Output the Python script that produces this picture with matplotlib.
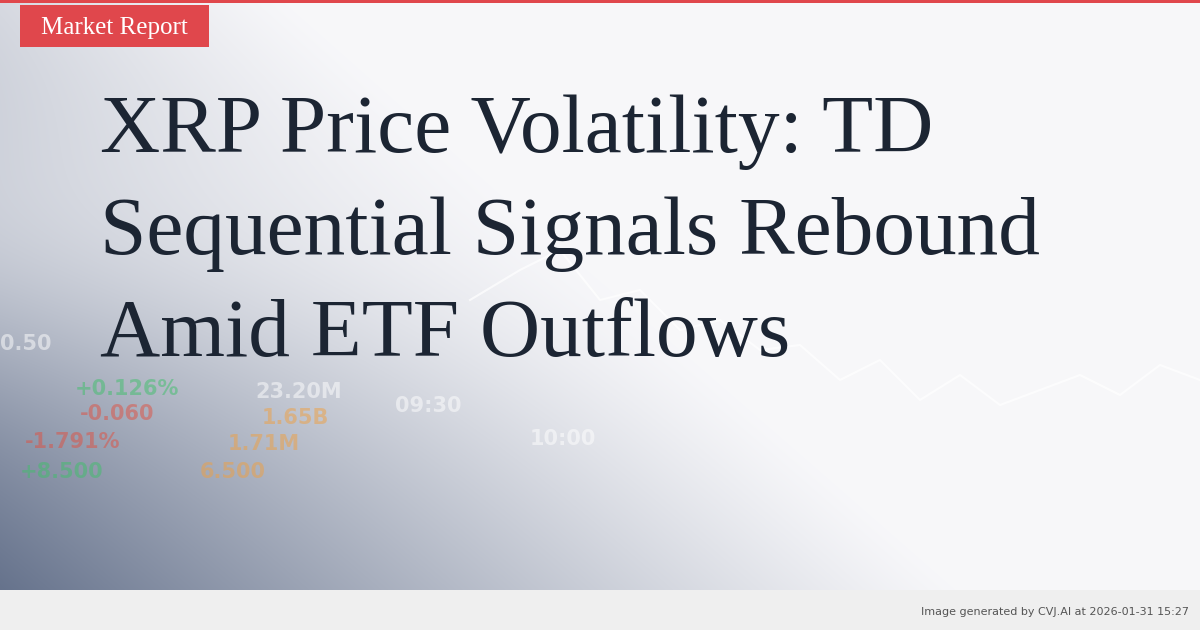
import numpy as np
import matplotlib.pyplot as plt

W, H = 1200, 630

TITLE_LINES = ["XRP Price Volatility: TD", "Sequential Signals Rebound", "Amid ETF Outflows"]
TAG = "Market Report"
FOOTER = "Image generated by CVJ.AI at 2026-01-31 15:27"

# faint ticker numbers in the blurred background
TICKER_TEXT = ["+0.126%", "-0.060", "-1.791%", "23.20M", "1.65B", "1.71M", "09:30", "10:00", "6.500", "0.50", "+8.500"]
TICKER_X = [75, 80, 25, 255, 262, 228, 395, 530, 200, 0, 20]
TICKER_Y = [395, 420, 448, 398, 424, 450, 412, 445, 478, 350, 478]
TICKER_C = ["#3fbf6a", "#e05040", "#e05040", "#ffffff", "#f0a040", "#f0a040", "#ffffff", "#ffffff", "#f0a040", "#ffffff", "#3fbf6a"]

# faint price line on the right
LINE_X = [470, 520, 560, 600, 640, 680, 720, 760, 800, 840, 880, 920, 960, 1000, 1040, 1080, 1120, 1160, 1200]
LINE_Y = [300, 270, 250, 300, 290, 330, 320, 350, 345, 380, 360, 400, 375, 405, 390, 375, 395, 365, 380]

fig = plt.figure(figsize=(12, 6.3), dpi=100)
ax = fig.add_axes([0, 0, 1, 1])
ax.set_xlim(0, W)
ax.set_ylim(H, 0)
ax.axis("off")

# background: dark blue-grey lower left fading to near white
yy, xx = np.mgrid[0:H, 0:W]
t = np.clip(1.05 - (xx / W) * 1.25 - (1 - yy / H) * 0.75, 0, 1) ** 1.2
veil = np.exp(-((yy - 220) / 150.0) ** 2) * 0.4
t = t * (1 - veil)
dark = np.array([0.40, 0.45, 0.55])
light = np.array([0.97, 0.97, 0.98])
img = light + (dark - light) * t[..., None]
ax.imshow(img, extent=(0, W, H, 0), zorder=0)

for s, x, y, c in zip(TICKER_TEXT, TICKER_X, TICKER_Y, TICKER_C):
    ax.text(x, y, s, color=c, alpha=0.5, fontsize=15, fontweight="bold", zorder=1)
ax.plot(LINE_X, LINE_Y, color="white", lw=1.5, alpha=0.7, zorder=1)

# top red rule and tag
ax.add_patch(plt.Rectangle((0, 0), W, 3, color="#e0474c", zorder=3, lw=0))
ax.add_patch(plt.Rectangle((20, 5), 189, 42, color="#e0474c", zorder=3, lw=0))
ax.text(114, 28, TAG, color="white", fontsize=18, family="Liberation Serif",
        ha="center", va="center", zorder=4)

for i, line in enumerate(TITLE_LINES):
    ax.text(100, 152 + i * 102, line, color="#1c2533", fontsize=60,
            family="Liberation Serif", va="baseline", zorder=4)

# footer
ax.add_patch(plt.Rectangle((0, 590), W, 40, color="#efefef", zorder=3, lw=0))
ax.text(1189, 612, FOOTER, color="#555555", fontsize=8, ha="right", va="center", zorder=4)

fig.savefig("out.png", dpi=100)
